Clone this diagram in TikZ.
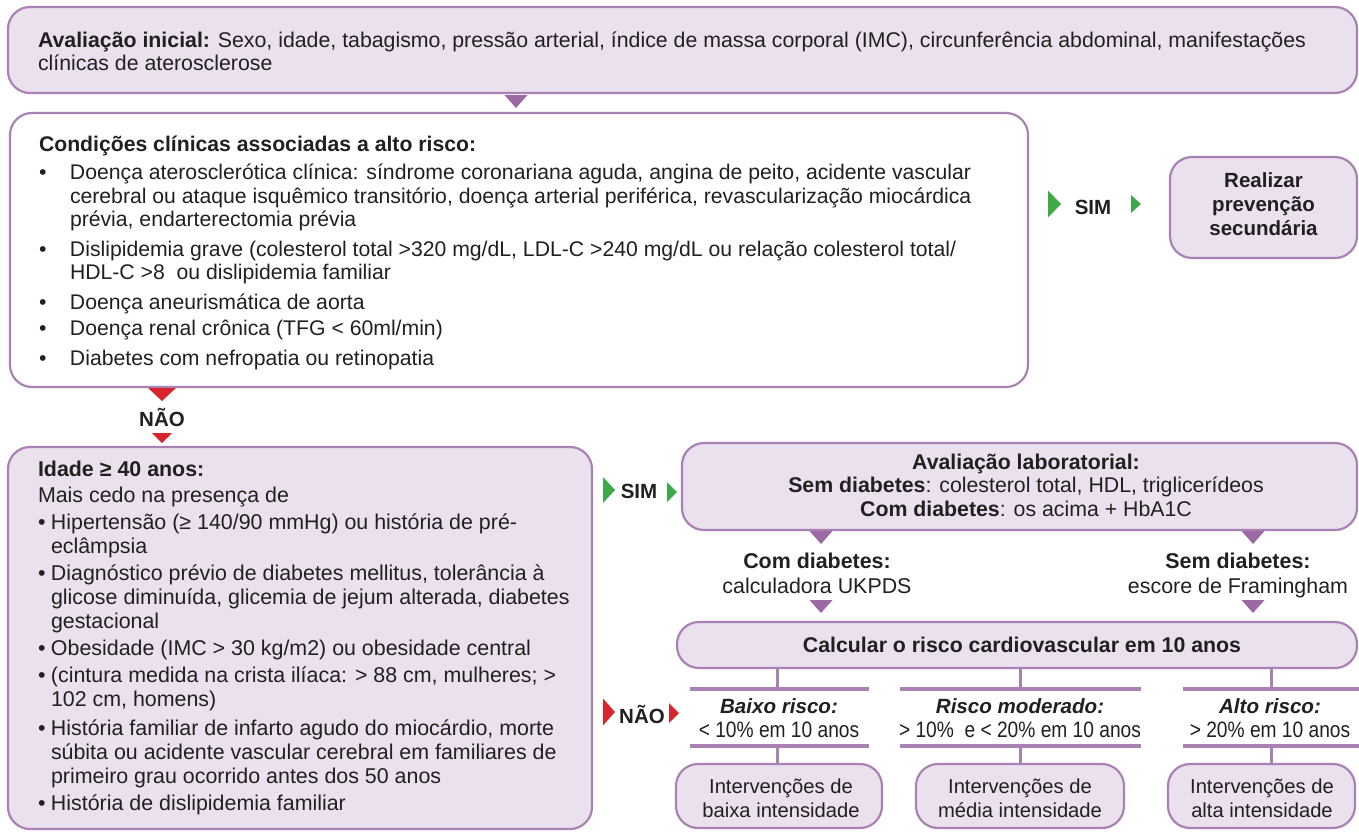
\documentclass[tikz,border=0pt]{standalone}
\usepackage{fontspec}
\setmainfont{Liberation Sans}
\newfontfamily\cond[FakeStretch=0.86]{Liberation Sans}
\usetikzlibrary{calc}
\definecolor{boxfill}{HTML}{EBE0EE}
\definecolor{bord}{HTML}{A982B3}
\definecolor{tri}{HTML}{9B6AA4}
\definecolor{grn}{HTML}{3DAA47}
\definecolor{rd}{HTML}{D8262E}
\definecolor{ink}{HTML}{231F20}
\newcommand\fA{\fontsize{21.2}{23.5}\selectfont}
\newcommand\fC{\fontsize{21.3}{23.5}\selectfont}
\newcommand\fD{\fontsize{21.4}{24}\selectfont}
\newcommand\fS{\cond\fontsize{22.3}{24}\selectfont}
\newcommand\fT{\rmfamily\fontsize{20.6}{24}\selectfont}
\newcommand\fI{\fontsize{20.2}{24}\selectfont}
\newcommand\fL{\fontsize{20.5}{24}\selectfont}
\newcommand\bulA{\makebox[31pt][l]{•}}
\newcommand\indA{\hspace*{31pt}}
\newcommand\bulC{\makebox[13pt][l]{•}}
\newcommand\indC{\hspace*{13pt}}
\begin{document}
\begin{tikzpicture}[x=1pt,y=-1pt,
  every node/.style={inner sep=0pt, outer sep=0pt, text=ink},
  box/.style={draw=bord, line width=2.2pt, rounded corners=22pt, fill=boxfill, anchor=north west},
  wbox/.style={box, fill=white},
  bar/.style={draw=bord, line width=4pt},
  stem/.style={draw=bord, line width=3pt},
  pics/dtri/.style={code={\path[pic actions] (-0.5,0) -- (0.5,0) -- (0,1) -- cycle;}},
  pics/rtri/.style={code={\path[pic actions] (0,-0.5) -- (1,0) -- (0,0.5) -- cycle;}},
]
\useasboundingbox (0,0) rectangle (1359,831);

% boxes
\node[box, minimum width=1349, minimum height=86] (init) at (8,7) {};
\node[wbox, minimum width=1018, minimum height=274] (cond) at (10,113) {};
\node[box, minimum width=187, minimum height=101] (sec) at (1170,157) {};
\node[box, minimum width=584, minimum height=382] (idade) at (8,447) {};
\node[box, minimum width=675, minimum height=87] (lab) at (682,443) {};
\node[box, minimum width=680, minimum height=46] (calc) at (677,622) {};
\node[box, minimum width=206, minimum height=64] (ib) at (676,764) {};
\node[box, minimum width=208, minimum height=64] (im) at (916,764) {};
\node[box, minimum width=187, minimum height=64] (ia) at (1168,764) {};

% texts
\node[anchor=base west, font=\fC] (tinit) at (38,47) {\begin{tabular}[t]{@{}l@{}}
\textbf{Avaliação inicial:} Sexo, idade, tabagismo, pressão arterial, índice de massa corporal (IMC), circunferência abdominal, manifestações\\
clínicas de aterosclerose\end{tabular}};

\node[anchor=base west, font=\fA] (tcond) at (39,151) {\begin{tabular}[t]{@{}l@{}}
\textbf{Condições clínicas associadas a alto risco:}\\[5pt]
\bulA Doença aterosclerótica clínica: síndrome coronariana aguda, angina de peito, acidente vascular\\
\indA cerebral ou ataque isquêmico transitório, doença arterial periférica, revascularização miocárdica\\
\indA prévia, endarterectomia prévia\\[6pt]
\bulA Dislipidemia grave (colesterol total >320 mg/dL, LDL-C >240 mg/dL ou relação colesterol total/\\
\indA HDL-C >8 \ ou dislipidemia familiar\\[6pt]
\bulA Doença aneurismática de aorta\\[3pt]
\bulA Doença renal crônica (TFG < 60ml/min)\\[6pt]
\bulA Diabetes com nefropatia ou retinopatia
\end{tabular}};

\node[font=\fL\bfseries, align=center] (tsec) at ([yshift=3pt]sec.center) {Realizar\\prevenção\\secundária};

\node[anchor=base west, font=\fD] (tidade) at (38,476) {\begin{tabular}[t]{@{}l@{}}
\textbf{Idade ≥ 40 anos:}\\[2pt]
Mais cedo na presença de\\[3pt]
\bulC Hipertensão (≥ 140/90 mmHg) ou história de pré-\\
\indC eclâmpsia\\[3pt]
\bulC Diagnóstico prévio de diabetes mellitus, tolerância à\\
\indC glicose diminuída, glicemia de jejum alterada, diabetes\\
\indC gestacional\\[3pt]
\bulC Obesidade (IMC > 30 kg/m2) ou obesidade central\\[3pt]
\bulC (cintura medida na crista ilíaca: > 88 cm, mulheres; >\\
\indC 102 cm, homens)\\[5pt]
\bulC História familiar de infarto agudo do miocárdio, morte\\
\indC súbita ou acidente vascular cerebral em familiares de\\
\indC primeiro grau ocorrido antes dos 50 anos\\[3pt]
\bulC História de dislipidemia familiar
\end{tabular}};

\node[anchor=base, font=\fC] (tlab) at (1026,469) {\begin{tabular}[t]{@{}c@{}}
\textbf{Avaliação laboratorial:}\\
\textbf{Sem diabetes}: colesterol total, HDL, triglicerídeos\\
\textbf{Com diabetes}: os acima + HbA1C\end{tabular}};

\node[anchor=base, font=\fD] (tcom) at (817,568) {\begin{tabular}[t]{@{}c@{}}
\textbf{Com diabetes:}\\[1pt] calculadora UKPDS\end{tabular}};
\node[anchor=base, font=\fD] (tsem) at (1238,568) {\begin{tabular}[t]{@{}c@{}}
\textbf{Sem diabetes:}\\[1pt] escore de Framingham\end{tabular}};

\node[anchor=base, font=\fC\bfseries] (tcalc) at (1022,652) {Calcular o risco cardiovascular em 10 anos};

\node[anchor=base, font=\fS] (rb) at (779,713) {\begin{tabular}[t]{@{}c@{}}
{\fT\bfseries\itshape Baixo risco:}\\ < 10\% em 10 anos\end{tabular}};
\node[anchor=base, font=\fS] (rm) at (1020,713) {\begin{tabular}[t]{@{}c@{}}
{\fT\bfseries\itshape Risco moderado:}\\ > 10\% \ e < 20\% em 10 anos\end{tabular}};
\node[anchor=base, font=\fS] (ra) at (1270,713) {\begin{tabular}[t]{@{}c@{}}
{\fT\bfseries\itshape Alto risco:}\\ > 20\% em 10 anos\end{tabular}};

\node[anchor=base, font=\fI] (tib) at (781,793) {\begin{tabular}[t]{@{}c@{}}Intervenções de\\ baixa intensidade\end{tabular}};
\node[anchor=base, font=\fI] (tim) at (1020,793) {\begin{tabular}[t]{@{}c@{}}Intervenções de\\ média intensidade\end{tabular}};
\node[anchor=base, font=\fI] (tia) at (1262,793) {\begin{tabular}[t]{@{}c@{}}Intervenções de\\ alta intensidade\end{tabular}};

% SIM / NAO labels
\node[font=\fL\bfseries] (sim1) at (1093,207) {SIM};
\node[font=\fL\bfseries] (nao1) at (162,417) {NÃO};
\node[font=\fL\bfseries] (sim2) at (639,491) {SIM};
\node[font=\fL\bfseries] (nao2) at (642,714) {NÃO};

% triangles
\pic[fill=tri, xscale=23, yscale=13] at (516,95) {dtri};
\pic[fill=grn, xscale=13, yscale=27] at (1048,204) {rtri};
\pic[fill=grn, xscale=10, yscale=18] at (1131,204) {rtri};
\pic[fill=rd, xscale=28, yscale=13] at (162,388) {dtri};
\pic[fill=rd, xscale=20, yscale=10] at (162,433) {dtri};
\pic[fill=grn, xscale=12, yscale=26] at (603,490) {rtri};
\pic[fill=grn, xscale=10, yscale=20] at (667,492) {rtri};
\pic[fill=rd, xscale=12, yscale=27] at (603,712) {rtri};
\pic[fill=rd, xscale=10, yscale=20] at (669,713) {rtri};
\pic[fill=tri, xscale=23, yscale=13] at (821,531) {dtri};
\pic[fill=tri, xscale=23, yscale=13] at (1253,531) {dtri};
\pic[fill=tri, xscale=23, yscale=13] at (821,600) {dtri};
\pic[fill=tri, xscale=23, yscale=13] at (1253,600) {dtri};

% risk tree
\coordinate (b1) at (777,689);
\coordinate (b2) at (1020,689);
\coordinate (b3) at (1271,689);
\coordinate (c1) at (777,746);
\coordinate (c2) at (1020,746);
\coordinate (c3) at (1271,746);
\draw[stem] (calc.south -| b1) -- (b1);
\draw[stem] (calc.south -| b2) -- (b2);
\draw[stem] (calc.south -| b3) -- (b3);
\draw[bar] (690,689) -- (869,689);
\draw[bar] (900,689) -- (1141,689);
\draw[bar] (1183,689) -- (1362,689);
\draw[bar] (690,746) -- (869,746);
\draw[bar] (900,746) -- (1141,746);
\draw[bar] (1183,746) -- (1362,746);
\draw[stem] (c1) -- (c1 |- ib.north);
\draw[stem] (c2) -- (c2 |- im.north);
\draw[stem] (c3) -- (c3 |- ia.north);
\end{tikzpicture}
\end{document}
